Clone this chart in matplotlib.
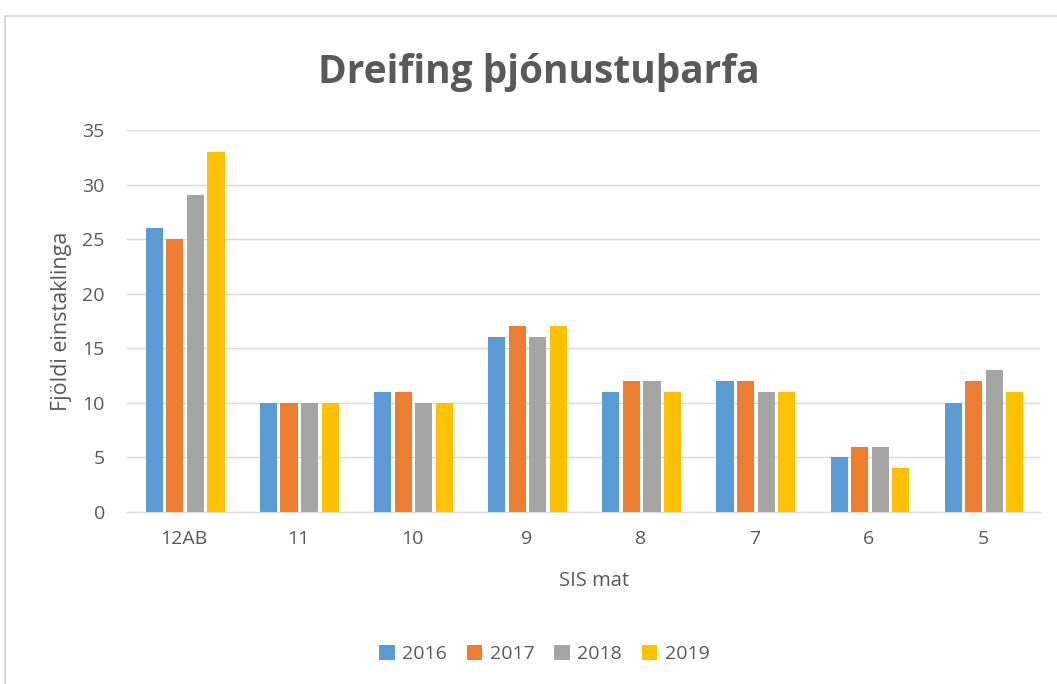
import matplotlib
matplotlib.use("Agg")
import matplotlib.pyplot as plt
from matplotlib.patches import Rectangle
import numpy as np

plt.rcParams['font.family'] = ['Open Sans', 'DejaVu Sans']

categories = ["12AB", "11", "10", "9", "8", "7", "6", "5"]
years = ["2016", "2017", "2018", "2019"]
v2016 = [26, 10, 11, 16, 11, 12, 5, 10]
v2017 = [25, 10, 11, 17, 12, 12, 6, 12]
v2018 = [29, 10, 10, 16, 12, 11, 6, 13]
v2019 = [33, 10, 10, 17, 11, 11, 4, 11]
series = [v2016, v2017, v2018, v2019]
colors = ["#5B9BD5", "#ED7D31", "#A5A5A5", "#FFC000"]
yticks = [0, 5, 10, 15, 20, 25, 30, 35]

fig = plt.figure(figsize=(10.57, 6.84), dpi=100)
fig.patches.append(Rectangle((5/1057, -0.1), 1.2, 1 - 16/684 + 0.1,
                             transform=fig.transFigure, fill=False,
                             edgecolor="#D9D9D9", linewidth=1.5))
ax = fig.add_axes([127/1057, 1 - 512/684, 913/1057, 382/684])

x = np.arange(len(categories))
step = 0.18
width = 0.15
for i, (vals, c, yr) in enumerate(zip(series, colors, years)):
    ax.bar(x + (i - 1.5) * step + 0.01, vals, width, color=c, label=yr, zorder=3)

ax.set_xlim(-0.5, len(categories) - 0.5)
ax.set_ylim(0, 35)
ax.set_yticks(yticks)
ax.set_yticklabels([str(t) for t in yticks])
ax.set_xticks(x)
ax.set_xticklabels(categories)
ax.grid(axis='y', color="#D9D9D9", linewidth=1, zorder=0)
for s in ["top", "right", "left"]:
    ax.spines[s].set_visible(False)
ax.spines["bottom"].set_color("#D9D9D9")
ax.tick_params(axis='both', length=0, labelsize=14, colors="#595959")
ax.tick_params(axis='y', pad=16)
ax.tick_params(axis='x', pad=13)

ax.set_ylabel("Fjöldi einstaklinga", fontsize=15.5, color="#595959")
ax.yaxis.set_label_coords(-0.060, 0.5)
ax.set_xlabel("SIS mat", fontsize=14.5, color="#595959")
ax.xaxis.set_label_coords(0.512, -0.155)
fig.text(0.51, 1 - 72/684, "Dreifing þjónustuþarfa", ha='center', va='center',
         fontsize=28, fontweight='bold', color="#595959")

leg = fig.legend(loc='center', bbox_to_anchor=(0.515, 1 - 654/684), ncol=4,
                 frameon=False, fontsize=14, handlelength=0.8, handleheight=0.8,
                 columnspacing=1.0, handletextpad=0.4)
for t in leg.get_texts():
    t.set_color("#595959")

fig.savefig("out.png", dpi=100)
